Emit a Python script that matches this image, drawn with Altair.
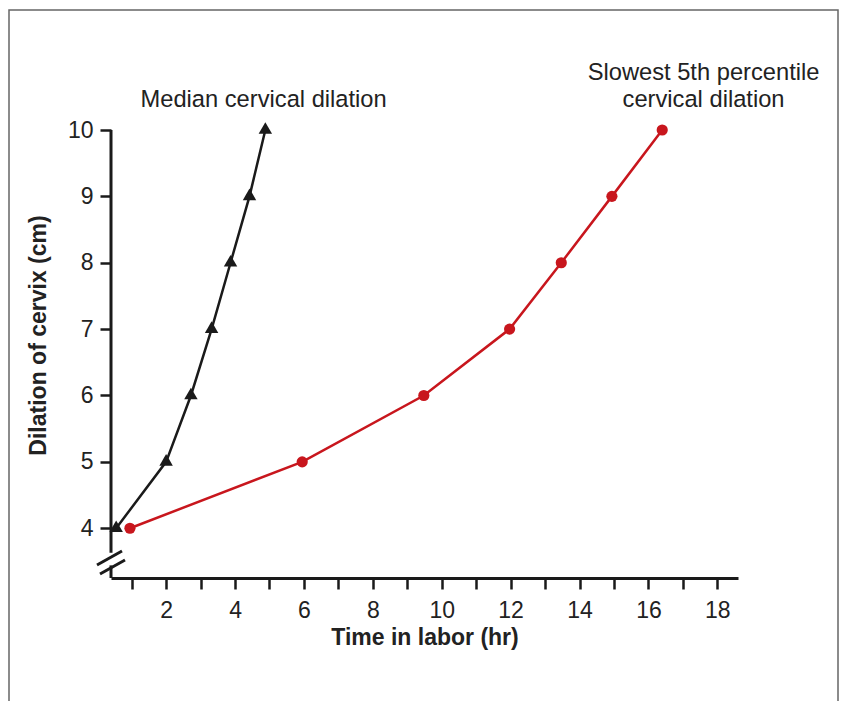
import altair as alt
import pandas as pd

# Data
median_hours = [0.55, 2.0, 2.72, 3.32, 3.87, 4.42, 4.88]
median_dilation = [4, 5, 6, 7, 8, 9, 10]
slow_hours = [0.95, 5.95, 9.48, 11.97, 13.47, 14.94, 16.4]
slow_dilation = [4, 5, 6, 7, 8, 9, 10]

label_text = ["Median cervical dilation", "Slowest 5th percentile", "cervical dilation"]
label_x = [4.83, 17.6, 17.6]
label_y = [10.45, 10.86, 10.45]

FONT = "Liberation Sans"
RED = "#c8161d"
BLACK = "#1a1a1a"

W, H = 627, 448
XDOM = [0.4, 18.6]
YDOM = [3.25, 10]

med = pd.DataFrame({"x": median_hours, "y": median_dilation})
slow = pd.DataFrame({"x": slow_hours, "y": slow_dilation})
labels = pd.DataFrame({"x": label_x, "y": label_y, "t": label_text})

xs = alt.Scale(domain=XDOM, nice=False, zero=False)
ys = alt.Scale(domain=YDOM, nice=False, zero=False)

xaxis = alt.Axis(
    title="Time in labor (hr)", values=list(range(1, 19)),
    labelExpr="datum.value % 2 == 0 ? datum.label : ''",
    labelOverlap=False, format="d",
    grid=False, domainWidth=3, domainColor=BLACK, tickColor=BLACK,
    tickWidth=2.5, tickSize=11, labelFontSize=23, labelColor="#222",
    labelPadding=10, titleFontSize=23, titleFontWeight="bold",
    titleColor="#222", titlePadding=4, labelFont=FONT, titleFont=FONT,
)
yaxis = alt.Axis(
    title="Dilation of cervix (cm)", values=[4, 5, 6, 7, 8, 9, 10],
    format="d", labelOverlap=False,
    grid=False, domain=False, tickColor=BLACK, tickWidth=2.5, tickSize=11,
    labelFontSize=23, labelColor="#222", labelPadding=7,
    titleFontSize=23, titleFontWeight="bold", titleColor="#222",
    titleX=-73, titleY=205, titleBaseline="middle", labelFont=FONT, titleFont=FONT,
)

X = alt.X("x:Q", scale=xs, axis=xaxis)
Y = alt.Y("y:Q", scale=ys, axis=yaxis)

base_med = alt.Chart(med).encode(x=X, y=Y)
med_line = base_med.mark_line(color=BLACK, strokeWidth=2.5)
med_pts = base_med.mark_point(shape="triangle-up", filled=True, color=BLACK,
                              size=180, opacity=1, yOffset=-2)

base_slow = alt.Chart(slow).encode(x=X, y=Y)
slow_line = base_slow.mark_line(color=RED, strokeWidth=2.5)
slow_pts = base_slow.mark_circle(color=RED, size=125, opacity=1)

text = alt.Chart(labels).mark_text(fontSize=23.7, font=FONT, color="#222",
                                   align="center", baseline="middle").encode(
    x=X, y=Y, text="t:N")

# y-axis line with a break
axis_df = pd.DataFrame({"y": [10, 3.44], "y2": [3.63, 3.25]})
yline = alt.Chart(axis_df).mark_rule(color=BLACK, strokeWidth=3).encode(
    x=alt.value(0), y=Y, y2="y2:Q")
brk1 = alt.Chart(pd.DataFrame({"a": [0]})).mark_rule(color=BLACK, strokeWidth=3).encode(
    x=alt.value(-14), y=alt.value(435), x2=alt.value(11), y2=alt.value(421))
brk2 = alt.Chart(pd.DataFrame({"a": [0]})).mark_rule(color=BLACK, strokeWidth=3).encode(
    x=alt.value(-11), y=alt.value(444), x2=alt.value(14), y2=alt.value(430))

# outer frame
frame = alt.Chart(pd.DataFrame({"a": [0]})).mark_rect(
    fill=None, stroke="#666", strokeWidth=1.5).encode(
    x=alt.value(-102), y=alt.value(-120), x2=alt.value(727), y2=alt.value(620))

chart = alt.layer(
    frame, yline, brk1, brk2, med_line, slow_line, med_pts, slow_pts, text
).properties(
    width=W, height=H,
    autosize=alt.AutoSizeParams(type="none"),
    padding={"left": 103, "top": 122, "right": 102, "bottom": 125},
).configure_view(stroke=None)

chart.save("out.html", embed_options={"renderer": "svg", "actions": False})
